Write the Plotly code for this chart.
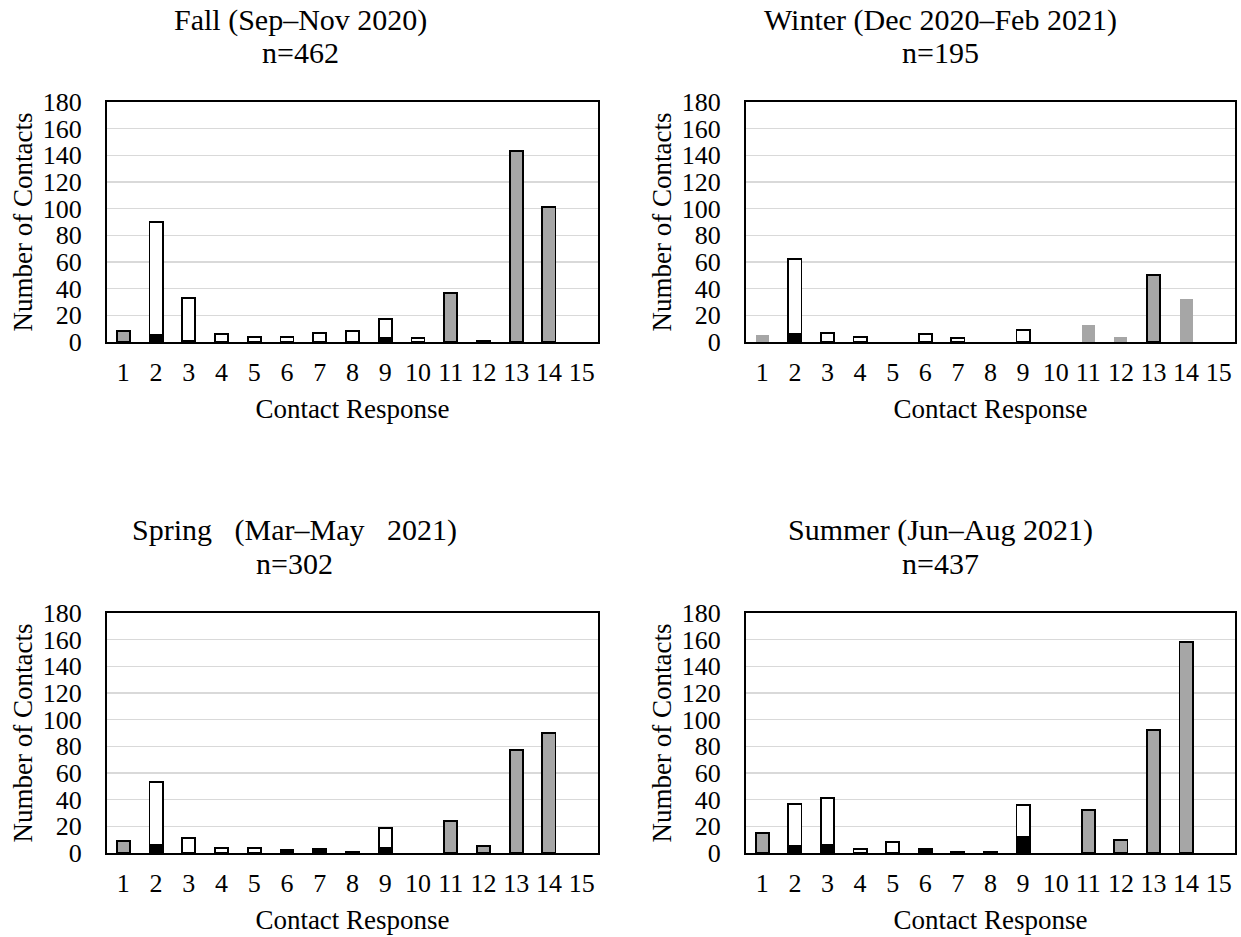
import plotly.graph_objects as go

responses = list(range(1, 16))
tick_labels = [str(r) for r in responses]

panel_titles = ["Fall (Sep–Nov 2020)", "Winter (Dec 2020–Feb 2021)",
                "Spring\u00a0\u00a0\u00a0(Mar–May\u00a0\u00a0\u00a02021)", "Summer (Jun–Aug 2021)"]
panel_n = ["n=462", "n=195", "n=302", "n=437"]

# Gray bars (responses 1, 11-14)
fall_gray   = [8, None, None, None, None, None, None, None, None, None, 37, 1, 143, 101, None]
winter_gray = [5, None, None, None, None, None, None, None, None, None, 13, 4, 50, 32, None]
spring_gray = [9, None, None, None, None, None, None, None, None, None, 24, 5, 77, 90, None]
summer_gray = [15, None, None, None, None, None, None, None, None, None, 32, 10, 92, 158, None]

# Black (lower) part of responses 2-10
fall_black   = [None, 5, 1, None, None, None, None, None, 3, None, None, None, None, None, None]
winter_black = [None, 6, None, None, None, None, None, None, None, None, None, None, None, None, None]
spring_black = [None, 6, None, None, None, 2, 3, 1, 4, None, None, None, None, None, None]
summer_black = [None, 5, 6, None, None, 3, 1, 1, 12, None, None, None, None, None, None]

# Total heights of responses 2-10 (black + white)
fall_total   = [None, 90, 33, 6, 4, 4, 7, 8, 17, 3, None, None, None, None, None]
winter_total = [None, 62, 7, 4, None, 6, 3, None, 9, None, None, None, None, None, None]
spring_total = [None, 53, 11, 4, 4, 2, 3, 1, 19, None, None, None, None, None, None]
summer_total = [None, 37, 41, 3, 8, 3, 1, 1, 36, None, None, None, None, None, None]

# Winter gray bars drawn without outline except response 13
winter_gray_outline = [0, 0, 0, 0, 0, 0, 0, 0, 0, 0, 0, 0, 1.8, 0, 0]

panels = [
    (fall_gray, fall_black, fall_total, None),
    (winter_gray, winter_black, winter_total, winter_gray_outline),
    (spring_gray, spring_black, spring_total, None),
    (summer_gray, summer_black, summer_total, None),
]

W, H = 1241, 937
FONT = "Liberation Serif, Times New Roman, serif"
GRAY = "#a6a6a6"

boxes = [  # left, right, top, bottom in pixels
    (107, 598, 102, 342),
    (746, 1235, 102, 342),
    (107, 598, 613, 853),
    (746, 1235, 613, 853),
]
title_x = [300, 940, 294, 940]
title_y = [(20, 52), (20, 52), (530, 563), (530, 563)]

fig = go.Figure()
layout = dict(
    width=W, height=H,
    margin=dict(l=0, r=0, t=0, b=0),
    paper_bgcolor="white", plot_bgcolor="white",
    barmode="stack", bargap=0.6, showlegend=False,
    font=dict(family=FONT, color="black", size=26),
)
annotations = []

for i, (gray, black, total, gray_outline) in enumerate(panels):
    ax = "" if i == 0 else str(i + 1)
    xa, ya = "x" + ax, "y" + ax
    white = [None if (t is None) else (t - (b or 0)) or None for t, b in zip(total, black)]
    gl = gray_outline if gray_outline is not None else 1.8
    fig.add_trace(go.Bar(x=responses, y=gray, xaxis=xa, yaxis=ya,
                         marker=dict(color=GRAY, line=dict(color="black", width=gl))))
    fig.add_trace(go.Bar(x=responses, y=black, xaxis=xa, yaxis=ya,
                         marker=dict(color="black", line=dict(color="black", width=1.8))))
    fig.add_trace(go.Bar(x=responses, y=white, xaxis=xa, yaxis=ya,
                         marker=dict(color="white", line=dict(color="black", width=1.8))))

    l, r, t, b = boxes[i]
    layout["xaxis" + ax] = dict(
        domain=[l / W, r / W], anchor=ya, range=[0.5, 15.5],
        tickmode="array", tickvals=responses, ticktext=tick_labels,
        showline=True, linecolor="black", linewidth=2, mirror=True,
        showgrid=False, zeroline=False, ticks="", ticklabelstandoff=6,
        tickfont=dict(size=26, family=FONT),
        title=dict(text="Contact Response", font=dict(size=27, family=FONT), standoff=13),
        automargin=False, fixedrange=True,
    )
    layout["yaxis" + ax] = dict(
        domain=[1 - b / H, 1 - t / H], anchor=xa, range=[0, 180],
        tickmode="array", tickvals=list(range(0, 181, 20)),
        showline=True, linecolor="black", linewidth=2, mirror=True,
        showgrid=True, gridcolor="#d9d9d9", gridwidth=1.5, zeroline=False,
        ticks="", ticklabelstandoff=18,
        tickfont=dict(size=26, family=FONT),
        title=dict(text="Number of Contacts", font=dict(size=27, family=FONT), standoff=2),
        automargin=False, fixedrange=True,
    )
    cx = title_x[i] / W
    annotations.append(dict(text=panel_titles[i], x=cx, y=1 - title_y[i][0] / H,
                            xref="paper", yref="paper", showarrow=False,
                            xanchor="center", yanchor="middle",
                            font=dict(size=30, family=FONT)))
    annotations.append(dict(text=panel_n[i], x=cx, y=1 - title_y[i][1] / H,
                            xref="paper", yref="paper", showarrow=False,
                            xanchor="center", yanchor="middle",
                            font=dict(size=30, family=FONT)))

layout["annotations"] = annotations
fig.update_layout(**layout)
fig.write_html("out.html", config={"displayModeBar": False, "staticPlot": True},
               post_script="document.body.style.margin='0';document.body.style.overflow='hidden';")
